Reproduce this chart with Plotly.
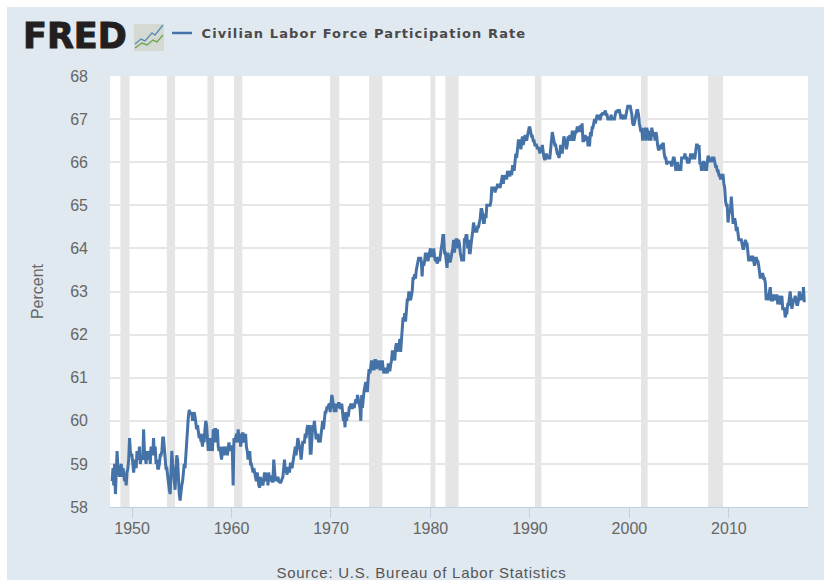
import pandas as pd
import plotly.graph_objects as go

TITLE = "Civilian Labor Force Participation Rate"
SOURCE = "Source: U.S. Bureau of Labor Statistics"
TICK_YEARS = [1950, 1960, 1970, 1980, 1990, 2000, 2010]
Y_TICKS = list(range(58, 69))

v1940s = [58.6,58.9,58.5,59.0,58.3,59.0,59.3,58.9,58.8,58.7,58.9,59.0,
          58.7,58.9,58.8,58.6,58.7,58.5,58.8,58.9,59.1,59.6,59.3,59.2]
v1950s = [59.2,58.9,58.8,59.0,59.1,58.9,59.3,59.1,59.2,59.4,59.0,59.1,
          59.2,59.1,59.8,59.3,59.1,59.0,59.3,59.2,59.1,59.3,59.0,59.4,
          59.3,59.2,59.6,59.2,59.4,59.0,59.1,58.9,58.9,59.0,59.2,59.2,
          59.3,59.6,59.6,59.3,59.0,58.9,58.9,58.7,58.6,58.4,58.3,58.8,
          59.3,59.0,58.7,58.6,58.4,58.8,59.2,59.1,58.6,58.3,58.15,58.4,
          58.5,58.6,58.8,59.0,58.9,59.3,59.7,59.8,60.1,60.25,60.2,60.15,
          60.2,60.0,60.15,60.2,60.1,59.9,59.8,59.9,59.7,59.6,59.7,59.55,
          59.55,59.4,59.7,59.5,59.8,60.0,59.9,59.6,59.3,59.6,59.3,59.6,
          59.4,59.3,59.8,59.5,59.8,59.8,59.5,59.8,59.4,59.3,59.4,59.2,
          59.1,59.3,59.4,59.2,59.4,59.3,59.4,59.2,59.4,59.5,59.3,59.4]
v1960s = [59.4,59.3,58.5,59.6,59.5,59.6,59.7,59.5,59.8,59.6,59.7,59.4,
          59.6,59.7,59.7,59.5,59.6,59.7,59.4,59.3,59.1,59.2,59.3,59.0,
          59.0,58.9,58.8,58.9,58.8,58.7,58.6,58.8,58.6,58.5,58.45,58.7,
          58.5,58.6,58.5,58.7,58.8,58.7,58.6,58.8,58.5,58.8,58.6,58.7,
          58.7,58.6,58.6,59.1,58.9,58.6,58.7,58.6,58.7,58.6,58.6,58.55,
          58.6,58.7,58.7,58.9,59.1,58.8,58.9,58.75,58.9,58.9,58.8,59.0,
          59.0,58.9,59.0,59.2,59.3,59.4,59.2,59.4,59.6,59.5,59.4,59.3,
          59.1,59.3,59.5,59.5,59.5,59.7,59.6,59.8,59.9,59.7,59.9,59.25,
          59.25,59.6,59.9,59.8,60.0,59.8,59.6,59.6,59.7,59.5,59.6,59.5,
          59.7,59.9,60.0,59.8,60.1,60.2,60.2,60.3,60.3,60.35,60.4,60.2]
v1970s = [60.5,60.6,60.5,60.3,60.2,60.4,60.2,60.4,60.3,60.4,60.4,60.3,
          60.3,60.4,60.1,60.0,60.1,59.85,60.2,60.0,60.2,60.1,60.3,60.3,
          60.4,60.3,60.3,60.4,60.3,60.4,60.5,60.4,60.6,60.5,60.4,60.3,
          60.0,60.6,60.3,60.6,60.7,60.8,60.9,60.7,60.7,61.0,61.2,61.1,
          61.3,61.4,61.3,61.2,61.2,61.4,61.4,61.2,61.4,61.3,61.4,61.2,
          61.2,61.3,61.4,61.2,61.1,61.2,61.2,61.2,61.1,61.3,61.3,61.15,
          61.3,61.4,61.6,61.6,61.5,61.4,61.7,61.8,61.6,61.8,61.7,61.9,
          61.6,61.9,62.1,62.4,62.3,62.5,62.3,62.5,62.8,62.8,63.0,62.9,
          62.8,62.9,63.0,63.3,63.3,63.4,63.3,63.5,63.6,63.7,63.8,63.7,
          63.8,63.7,63.35,63.7,63.6,63.7,63.9,63.8,63.9,63.7,63.8,63.9]
v1980s = [64.0,63.8,63.9,63.8,64.0,63.8,63.7,63.8,63.65,63.7,63.8,63.7,
          63.9,64.0,64.1,64.3,64.3,63.9,63.9,63.7,63.55,63.9,63.8,63.7,
          63.7,63.8,63.9,64.0,64.2,63.9,64.1,64.2,64.2,64.0,64.2,64.1,
          63.9,63.8,63.7,63.8,63.7,64.2,64.2,64.3,64.3,64.0,64.2,63.9,
          63.9,64.1,64.2,64.4,64.6,64.5,64.4,64.4,64.4,64.5,64.5,64.6,
          64.7,64.9,64.9,64.8,64.6,64.6,64.8,64.7,65.0,65.0,65.0,65.0,
          65.0,65.1,65.4,65.4,65.4,65.4,65.3,65.4,65.4,65.5,65.4,65.5,
          65.4,65.5,65.6,65.7,65.5,65.7,65.6,65.7,65.6,65.8,65.7,65.7,
          65.7,65.8,65.7,65.9,65.9,65.8,66.1,66.2,66.1,66.3,66.5,66.5,
          66.5,66.3,66.5,66.6,66.4,66.5,66.6,66.6,66.5,66.6,66.7,66.8]
v1990s = [66.8,66.7,66.6,66.6,66.5,66.5,66.4,66.4,66.4,66.3,66.35,66.3,
          66.2,66.3,66.3,66.4,66.2,66.1,66.05,66.1,66.2,66.1,66.1,66.1,
          66.1,66.3,66.6,66.7,66.6,66.5,66.4,66.4,66.3,66.2,66.2,66.1,
          66.2,66.4,66.3,66.2,66.4,66.6,66.5,66.5,66.3,66.4,66.6,66.5,
          66.6,66.6,66.5,66.7,66.7,66.5,66.6,66.7,66.7,66.8,66.8,66.7,
          66.8,66.85,66.7,66.9,66.5,66.5,66.6,66.6,66.5,66.6,66.4,66.4,
          66.4,66.7,66.6,66.8,66.8,66.9,67.0,66.9,67.0,67.1,67.0,67.1,
          67.0,67.0,67.1,67.1,67.15,67.1,67.15,67.2,67.1,67.1,67.0,67.0,
          67.0,67.0,67.1,67.0,67.0,67.0,67.0,67.1,67.2,67.15,67.2,67.2,
          67.2,67.1,67.0,67.1,67.05,67.0,67.1,67.0,67.1,67.2,67.3,67.3]
v2000s = [67.3,67.3,67.2,67.1,66.9,66.85,66.9,67.0,67.1,67.2,67.2,67.1,
          66.9,66.8,66.7,66.8,66.5,66.7,66.6,66.8,66.5,66.8,66.7,66.7,
          66.5,66.7,66.5,66.8,66.7,66.6,66.7,66.5,66.7,66.6,66.4,66.3,
          66.3,66.4,66.3,66.4,66.4,66.45,66.2,66.1,66.1,65.95,66.0,66.0,
          66.0,66.0,66.0,65.9,66.0,66.1,66.1,66.0,65.8,65.9,66.0,65.9,
          65.8,65.9,65.8,66.1,66.1,66.1,66.1,66.2,66.1,66.1,66.0,66.0,
          66.0,66.1,66.2,66.1,66.1,66.2,66.1,66.1,66.3,66.4,66.4,66.3,
          66.4,65.95,66.0,65.8,65.9,66.0,66.0,65.8,66.0,65.8,66.0,66.15,
          66.1,66.0,66.1,66.0,66.1,66.1,66.1,66.0,65.9,65.9,65.8,65.8,
          65.7,65.7,65.6,65.7,65.7,65.7,65.5,65.4,65.1,65.0,65.0,64.6]
v2010s = [64.8,64.9,64.9,65.2,64.9,64.6,64.6,64.7,64.6,64.4,64.5,64.3,
          64.2,64.2,64.2,64.2,64.1,64.0,64.0,64.1,64.2,64.1,64.1,63.9,
          63.7,63.8,63.8,63.7,63.8,63.8,63.7,63.6,63.7,63.8,63.7,63.7,
          63.6,63.4,63.3,63.4,63.4,63.4,63.3,63.3,63.2,62.8,62.9,62.8,
          62.9,63.0,63.1,62.8,62.8,62.8,62.9,62.9,62.8,62.9,62.9,62.7,
          62.9,62.8,62.7,62.8,62.9,62.6,62.6,62.6,62.4,62.5,62.5,62.7,
          62.7,62.9,63.0,62.8,62.6,62.7,62.8,62.8,62.9,62.8,62.7,62.7,
          62.8,63.0,62.9,62.8,62.9,62.8,63.1,62.75]

rec_start = ["1948-11-01","1953-07-01","1957-08-01","1960-04-01","1969-12-01","1973-11-01",
             "1980-01-01","1981-07-01","1990-07-01","2001-03-01","2007-12-01"]
rec_end = ["1949-10-01","1954-05-01","1958-04-01","1961-02-01","1970-11-01","1975-03-01",
           "1980-07-01","1982-11-01","1991-03-01","2001-11-01","2009-06-01"]

values = v1940s + v1950s + v1960s + v1970s + v1980s + v1990s + v2000s + v2010s
dates = pd.date_range("1948-01-01", periods=len(values), freq="MS")

# plot-area pixel box in the 824x580 page
L, R, T, B = 110, 808, 76, 507
OFF = 7
def px(x): return (x - L) / (R - L)
def py(y): return (B - y) / (B - T)

PANEL = "#e1e9f0"
fig = go.Figure(go.Scatter(x=dates, y=values, mode="lines",
                           line=dict(color="#4572a7", width=3), hoverinfo="skip"))

shapes = [dict(type="rect", xref="x", yref="paper", x0=a, x1=b, y0=0, y1=1,
               fillcolor="#e5e5e5", line_width=0, layer="between")
          for a, b in zip(rec_start, rec_end)]

# legend swatch and the small logo chart
shapes.append(dict(type="line", xref="paper", yref="paper", x0=px(172), x1=px(192), y0=py(33), y1=py(33),
                   line=dict(color="#4572a7", width=2.5)))
shapes.append(dict(type="rect", xref="paper", yref="paper", x0=px(134), x1=px(164), y0=py(51), y1=py(24),
                   fillcolor="#d5d9d4", line_width=0))
def path(pts):
    return "M " + " L ".join(f"{px(a)} {py(b)}" for a, b in pts)
shapes.append(dict(type="path", xref="paper", yref="paper", path=path([(135,44),(141,39),(145,41),(152,33),(155,35),(163,25)]),
                   line=dict(color="#5b8db8", width=1.4)))
shapes.append(dict(type="path", xref="paper", yref="paper", path=path([(135,48),(142,43),(147,45),(153,40),(157,42),(163,35)]),
                   line=dict(color="#6aa84f", width=1.4)))

def note(text, x, y, size, color, family, weight="normal"):
    return dict(text=text, xref="paper", yref="paper", x=px(x), y=py(y), xanchor="center", yanchor="middle",
                showarrow=False, font=dict(size=size, color=color, family=family, weight=weight))

annotations = [
    note("FRED", 74.5, 36, 35, "#231f20", "DejaVu Sans", weight="bold"),
    note(TITLE, 364, 33, 13, "#4a4a4a", "DejaVu Sans", weight="bold"),
    note(SOURCE, 421, 572, 15, "#555555", "Liberation Sans"),
]

fig.update_layout(
    width=824 - OFF, height=580 - OFF,
    margin=dict(l=L - OFF, r=824 - R, t=T - OFF, b=580 - B, pad=0),
    paper_bgcolor=PANEL, plot_bgcolor="white", showlegend=False,
    shapes=shapes, annotations=annotations,
    font=dict(family="Liberation Sans", color="#666666", size=16),
)
fig.update_xaxes(type="date", range=["1947-10-15", "2017-12-15"],
                 tickmode="array", tickvals=[f"{y}-01-01" for y in TICK_YEARS], ticktext=[str(y) for y in TICK_YEARS],
                 ticks="outside", ticklen=10, tickwidth=1, tickcolor="#c0d0e0",
                 showgrid=False, zeroline=False, showline=True, linecolor="#c0d0e0", linewidth=1,
                 tickfont=dict(size=16, color="#666666"), ticklabelstandoff=-3)
fig.update_yaxes(range=[58, 68], tickmode="array", tickvals=Y_TICKS, ticktext=[str(t) for t in Y_TICKS],
                 showgrid=True, gridcolor="#e6e6e6", gridwidth=1.5, zeroline=False, ticks="",
                 tickfont=dict(size=16, color="#666666"), ticklabelstandoff=21,
                 title=dict(text="Percent", font=dict(size=16, color="#666666"), standoff=22))

spacing_js = (
    "document.body.style.margin='7px 0 0 7px';document.body.style.overflow='hidden';"
    "document.querySelectorAll('.annotation-text').forEach(function(t){"
    "if(t.textContent.indexOf('Civilian')===0){t.style.letterSpacing='1.1px';}"
    "if(t.textContent.indexOf('Source')===0){t.style.letterSpacing='0.75px';}"
    "if(t.textContent==='FRED'){t.style.stroke='#231f20';t.style.strokeWidth='1px';}"
    "});"
)
fig.write_html("out.html", post_script=spacing_js)
